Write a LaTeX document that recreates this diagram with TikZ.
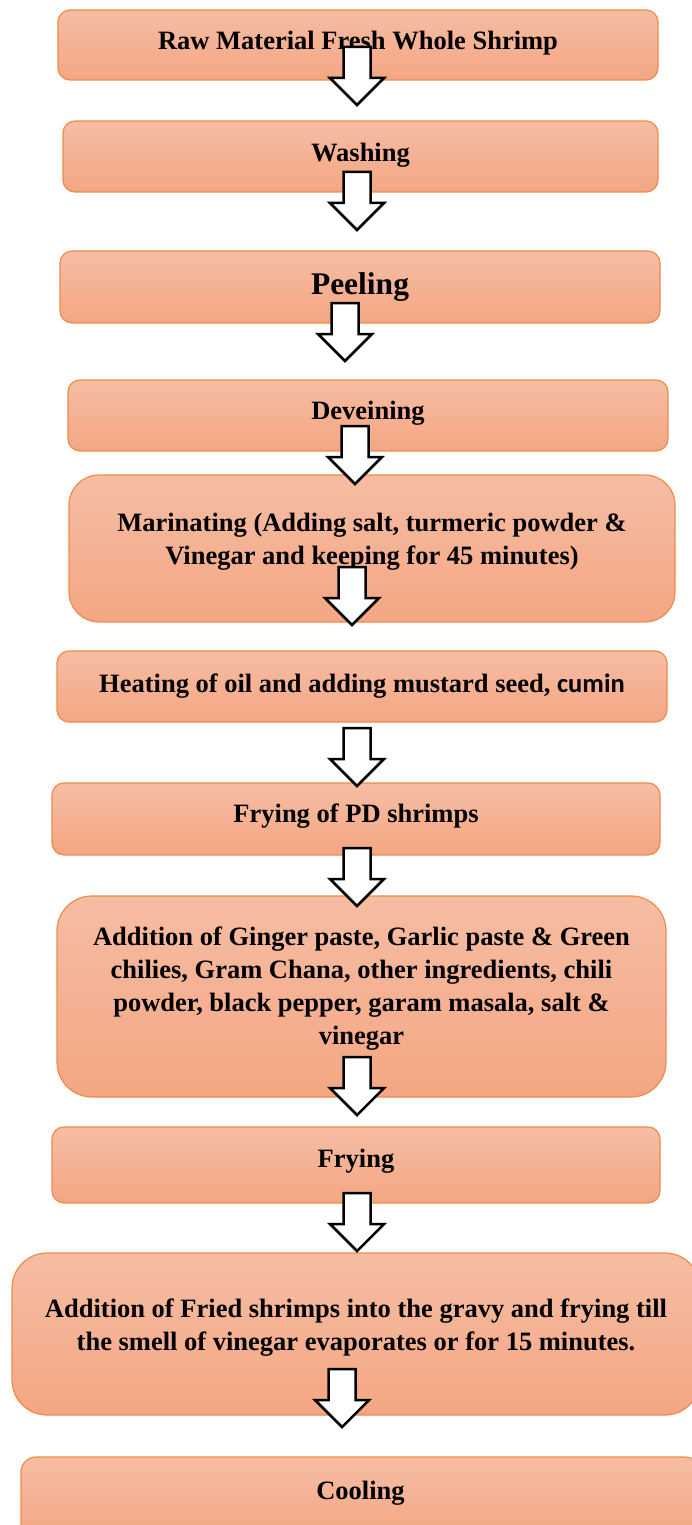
\documentclass[tikz,border=0pt]{standalone}
\usepackage{fontspec}
\setmainfont{Liberation Serif}
\newfontfamily\calibri{Carlito}
\usepackage{tikz}
\pgfdeclarelayer{boxlayer}
\pgfdeclarelayer{arrowlayer}
\pgfsetlayers{boxlayer,arrowlayer,main}
\definecolor{boxtop}{RGB}{246,189,163}
\definecolor{boxbottom}{RGB}{244,166,131}
\definecolor{boxline}{RGB}{240,138,76}
\tikzstyle{stepbox}=[draw=boxline, line width=1.2pt, top color=boxtop, bottom color=boxbottom, rounded corners=12pt, align=center, inner sep=0pt, font=\fontsize{26.5}{33}\selectfont\bfseries]
\tikzstyle{bigbox}=[stepbox, rounded corners=35pt]
\tikzset{downarrow/.pic={\draw[line width=2.5pt, fill=white, line join=miter] (-13.5,0) -- (-13.5,31) -- (-27,31) -- (0,58) -- (27,31) -- (13.5,31) -- (13.5,0) -- cycle;}}

\begin{document}
\begin{tikzpicture}[x=1pt, y=-1pt]
	\useasboundingbox (0,0) rectangle (691,1525);
	\begin{pgfonlayer}{boxlayer}
		\node [style=stepbox, minimum width=600pt, minimum height=70pt, text depth=10pt] (raw) at (358,45) {Raw Material Fresh Whole Shrimp};
		\node [style=stepbox, minimum width=595pt, minimum height=71pt, text depth=9pt] (wash) at (360.5,156.5) {Washing};
		\node [style=stepbox, minimum width=600pt, minimum height=72pt, font=\fontsize{31.5}{38}\selectfont\bfseries] (peel) at (360,287) {Peeling};
		\node [style=stepbox, minimum width=600pt, minimum height=71pt, text depth=11pt] (devein) at (368,415.5) {Deveining};
		\node [style=bigbox, rounded corners=30pt, minimum width=606pt, minimum height=147pt, text depth=20pt] (marinate) at (372,548.5) {Marinating (Adding salt, turmeric powder \&\\Vinegar and keeping for 45 minutes)};
		\node [style=stepbox, minimum width=610pt, minimum height=71pt, text depth=7pt] (heat) at (362,686.5) {Heating of oil and adding mustard seed, {\calibri cumin}};
		\node [style=stepbox, minimum width=608pt, minimum height=72pt, text depth=12pt] (frypd) at (356,819) {Frying of PD shrimps};
		\node [style=bigbox, minimum width=609pt, minimum height=201pt, text depth=21pt] (ginger) at (361.5,996.5) {Addition of Ginger paste, Garlic paste \& Green\\chilies, Gram Chana, other ingredients, chili\\powder, black pepper, garam masala, salt \&\\vinegar};
		\node [style=stepbox, minimum width=608pt, minimum height=76pt, text depth=14pt] (fry) at (356,1165) {Frying};
		\node [style=bigbox, minimum width=688pt, minimum height=162pt, text depth=18pt] (gravy) at (356,1334) {Addition of Fried shrimps into the gravy and frying till\\the smell of vinegar evaporates or for 15 minutes.};
		\node [style=stepbox, rounded corners=15pt, minimum width=679pt, minimum height=83pt, text depth=17pt] (cool) at (360.5,1498.5) {Cooling};
	\end{pgfonlayer}
	\begin{pgfonlayer}{arrowlayer}
		\coordinate (a1) at (357,47);
		\coordinate (a2) at (357,172);
		\coordinate (a3) at (345,303);
		\coordinate (a4) at (355,426);
		\coordinate (a5) at (352,567);
		\coordinate (a6) at (357,728);
		\coordinate (a7) at (357,848);
		\coordinate (a8) at (357,1057);
		\coordinate (a9) at (357,1193);
		\coordinate (a10) at (342,1369);
		\foreach \a in {a1,a2,a3,a4,a5,a6,a7,a8,a9,a10}
			\pic at (\a) {downarrow};
	\end{pgfonlayer}
\end{tikzpicture}
\end{document}
